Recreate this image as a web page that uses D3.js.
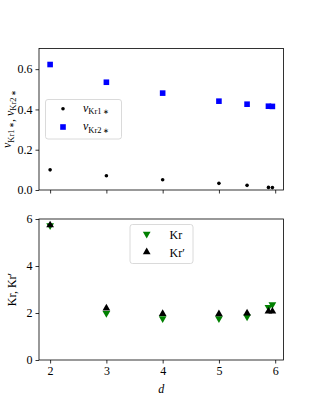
<!DOCTYPE html>
<html>
<head>
<meta charset="utf-8">
<script src="https://cdn.jsdelivr.net/npm/d3@7"></script>
<style>
  body { margin: 0; background: #fff; }
  svg text { font-family: "Liberation Serif", "Times New Roman", serif !important; }
</style>
</head>
<body>
<div id="chart"></div>
<script>
// data
const dValues = [2, 3, 4, 5, 5.5, 5.88, 5.95];
const nuKr1 = [0.100, 0.071, 0.051, 0.033, 0.023, 0.013, 0.012];
const nuKr2 = [0.623, 0.535, 0.481, 0.441, 0.426, 0.416, 0.415];
const kr = [5.72, 1.99, 1.77, 1.77, 1.84, 2.24, 2.36];
const krPrime = [5.74, 2.20, 1.97, 1.96, 1.99, 2.07, 2.07];
const xTicks = [2, 3, 4, 5, 6];
const topTicks = [0.0, 0.2, 0.4, 0.6];
const bottomTicks = [0, 2, 4, 6];

const W = 315, H = 405;
const left = 39, right = 283.5;
const FS = 12;

const svg = d3.select("#chart").append("svg")
  .attr("width", W).attr("height", H)
  .attr("font-family", "Liberation Serif");

const x = d3.scaleLinear().domain([1.8025, 6.1475]).range([left, right]);

const yTop = d3.scaleLinear().domain([0, 0.7025]).range([190, 48.5]);
const yBot = d3.scaleLinear().domain([0, 6]).range([360, 219]);

function drawAxes(y, ticks, fmt, showXLabels) {
  const g = svg.append("g");
  const ax = g.append("g").attr("transform", `translate(0,${y.range()[0]})`)
    .call(d3.axisBottom(x).tickValues(xTicks).tickSize(3.5).tickPadding(3)
      .tickFormat(showXLabels ? d3.format("d") : ""));
  const ay = g.append("g").attr("transform", `translate(${left},0)`)
    .call(d3.axisLeft(y).tickValues(ticks).tickSize(3.5).tickPadding(3).tickFormat(fmt));
  [ax, ay].forEach(a => {
    a.attr("font-family", null).attr("font-size", null);
    a.select(".domain").remove();
    a.selectAll("line").attr("stroke", "#000").attr("stroke-width", 0.8);
    a.selectAll("text").attr("font-size", FS).attr("fill", "#000");
  });
  g.append("rect")
    .attr("x", left).attr("y", y.range()[1])
    .attr("width", right - left).attr("height", y.range()[0] - y.range()[1])
    .attr("fill", "none").attr("stroke", "#000").attr("stroke-width", 0.8);
  return g;
}

drawAxes(yTop, topTicks, d3.format(".1f"), false);
drawAxes(yBot, bottomTicks, d3.format("d"), true);

// top markers
svg.append("g").selectAll("circle").data(dValues).join("circle")
  .attr("cx", d => x(d)).attr("cy", (d, i) => yTop(nuKr1[i]))
  .attr("r", 1.8).attr("fill", "#000");
svg.append("g").selectAll("rect").data(dValues).join("rect")
  .attr("x", d => x(d) - 2.8).attr("y", (d, i) => yTop(nuKr2[i]) - 2.8)
  .attr("width", 5.6).attr("height", 5.6).attr("fill", "#0000ff");

// bottom markers
const triUp = d3.symbol().type(d3.symbolTriangle).size(26);
svg.append("g").selectAll("path").data(dValues).join("path")
  .attr("d", triUp)
  .attr("transform", (d, i) => `translate(${x(d)},${yBot(kr[i])}) rotate(180)`)
  .attr("fill", "green");
svg.append("g").selectAll("path").data(dValues).join("path")
  .attr("d", triUp)
  .attr("transform", (d, i) => `translate(${x(d)},${yBot(krPrime[i])})`)
  .attr("fill", "#000");

// labels
function nuLabel(sel, sub) {
  sel.append("tspan").attr("font-style", "italic").text("ν");
  sel.append("tspan").attr("font-size", 8.5).attr("dy", 2.5).text("Kr" + sub);
  sel.append("tspan").attr("font-size", 7).attr("dx", 1.5).text("∗");
  sel.append("tspan").attr("dy", -2.5).text("");
}

const yl1 = svg.append("text")
  .attr("transform", "translate(11,119) rotate(-90)")
  .attr("text-anchor", "middle").attr("font-size", FS);
nuLabel(yl1, "1");
yl1.append("tspan").text(", ");
nuLabel(yl1, "2");

const yl2 = svg.append("text")
  .attr("transform", "translate(15.5,289.5) rotate(-90)")
  .attr("text-anchor", "middle").attr("font-size", FS);
yl2.append("tspan").text("Kr, Kr′");

svg.append("text").attr("x", (left + right) / 2).attr("y", 393)
  .attr("text-anchor", "middle").attr("font-size", FS)
  .attr("font-style", "italic").text("d");

// legends
function legendBox(x0, y0, w, h) {
  svg.append("rect").attr("x", x0).attr("y", y0).attr("width", w).attr("height", h)
    .attr("rx", 2.5).attr("fill", "#fff").attr("fill-opacity", 0.8)
    .attr("stroke", "#d0d0d0").attr("stroke-width", 0.8);
}

legendBox(45.5, 99.5, 76, 39.5);
svg.append("circle").attr("cx", 63).attr("cy", 108.7).attr("r", 1.8).attr("fill", "#000");
svg.append("rect").attr("x", 60.2).attr("y", 124.2).attr("width", 5.6).attr("height", 5.6).attr("fill", "#0000ff");
const l1 = svg.append("text").attr("x", 83).attr("y", 111.5).attr("font-size", FS);
nuLabel(l1, "1");
const l2 = svg.append("text").attr("x", 83).attr("y", 130).attr("font-size", FS);
nuLabel(l2, "2");

legendBox(130, 224.5, 63, 39);
svg.append("path").attr("d", triUp)
  .attr("transform", "translate(146.7,234) rotate(180)").attr("fill", "green");
svg.append("path").attr("d", triUp)
  .attr("transform", "translate(146.7,252)").attr("fill", "#000");
svg.append("text").attr("x", 169.5).attr("y", 238.5).attr("font-size", FS).text("Kr");
svg.append("text").attr("x", 169.5).attr("y", 256.5).attr("font-size", FS).text("Kr′");
</script>
</body>
</html>
